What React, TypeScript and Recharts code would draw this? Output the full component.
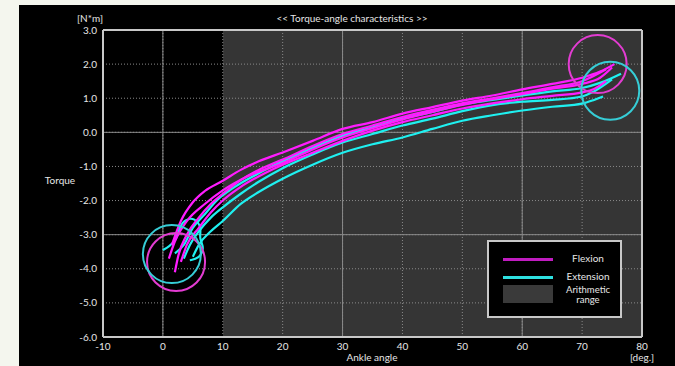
import React from "react";
import {
  ComposedChart,
  Line,
  XAxis,
  YAxis,
  CartesianGrid,
  ReferenceLine,
  ReferenceDot,
} from "recharts";

// ankle angle [deg.] / torque [N*m]
const flexion1 = [
  { a: 1.5, t: -3.3 }, { a: 3, t: -2.6 }, { a: 5, t: -2.05 }, { a: 7, t: -1.72 },
  { a: 10, t: -1.42 }, { a: 13, t: -1.1 }, { a: 16, t: -0.85 }, { a: 20, t: -0.59 },
  { a: 25, t: -0.25 }, { a: 30, t: 0.1 }, { a: 35, t: 0.3 }, { a: 40, t: 0.55 },
  { a: 45, t: 0.74 }, { a: 50, t: 0.93 }, { a: 55, t: 1.08 }, { a: 60, t: 1.26 },
  { a: 65, t: 1.42 }, { a: 70, t: 1.6 }, { a: 73, t: 1.78 }, { a: 75.4, t: 2.0 },
];
const flexion2 = [
  { a: 2, t: -4.1 }, { a: 2.6, t: -3.6 }, { a: 4, t: -3.0 }, { a: 6, t: -2.5 },
  { a: 8, t: -2.1 }, { a: 10, t: -1.8 }, { a: 13, t: -1.4 }, { a: 16, t: -1.1 },
  { a: 20, t: -0.8 }, { a: 25, t: -0.4 }, { a: 30, t: -0.05 }, { a: 35, t: 0.2 },
  { a: 40, t: 0.45 }, { a: 45, t: 0.66 }, { a: 50, t: 0.85 }, { a: 55, t: 1.0 },
  { a: 60, t: 1.15 }, { a: 65, t: 1.32 }, { a: 70, t: 1.5 }, { a: 74, t: 1.85 },
];
const flexion3 = [
  { a: 1, t: -3.7 }, { a: 2, t: -3.2 }, { a: 4, t: -2.6 }, { a: 7, t: -2.1 },
  { a: 10, t: -1.7 }, { a: 14, t: -1.3 }, { a: 20, t: -0.9 }, { a: 25, t: -0.5 },
  { a: 30, t: -0.15 }, { a: 35, t: 0.12 }, { a: 40, t: 0.38 }, { a: 45, t: 0.6 },
  { a: 50, t: 0.8 }, { a: 55, t: 0.97 }, { a: 60, t: 1.12 }, { a: 65, t: 1.28 },
  { a: 70, t: 1.42 }, { a: 73, t: 1.6 }, { a: 75, t: 1.9 },
];
const flexion4 = [
  { a: 3, t: -3.8 }, { a: 4, t: -3.3 }, { a: 6, t: -2.8 }, { a: 8, t: -2.35 },
  { a: 10, t: -2.0 }, { a: 13, t: -1.6 }, { a: 17, t: -1.2 }, { a: 20, t: -0.95 },
  { a: 25, t: -0.6 }, { a: 30, t: -0.25 }, { a: 35, t: 0.05 }, { a: 40, t: 0.3 },
  { a: 45, t: 0.5 }, { a: 50, t: 0.7 }, { a: 55, t: 0.85 }, { a: 60, t: 0.97 },
  { a: 65, t: 1.07 }, { a: 70, t: 1.17 }, { a: 72, t: 1.27 }, { a: 74, t: 1.5 },
];

const extension1 = [
  { a: 2, t: -3.55 }, { a: 3.5, t: -3.3 }, { a: 5, t: -2.8 }, { a: 7, t: -2.4 },
  { a: 9, t: -2.0 }, { a: 12, t: -1.6 }, { a: 16, t: -1.2 }, { a: 20, t: -0.85 },
  { a: 25, t: -0.45 }, { a: 30, t: -0.1 }, { a: 35, t: 0.15 }, { a: 40, t: 0.4 },
  { a: 45, t: 0.6 }, { a: 50, t: 0.82 }, { a: 55, t: 0.95 }, { a: 60, t: 1.08 },
  { a: 65, t: 1.2 }, { a: 70, t: 1.3 }, { a: 73, t: 1.45 }, { a: 76.5, t: 1.72 },
];
const extension2 = [
  { a: 3.5, t: -3.7 }, { a: 4.5, t: -3.3 }, { a: 6, t: -2.9 }, { a: 8, t: -2.5 },
  { a: 10, t: -2.2 }, { a: 13, t: -1.8 }, { a: 16, t: -1.45 }, { a: 20, t: -1.05 },
  { a: 25, t: -0.65 }, { a: 30, t: -0.3 }, { a: 35, t: -0.05 }, { a: 40, t: 0.2 },
  { a: 45, t: 0.4 }, { a: 50, t: 0.62 }, { a: 55, t: 0.8 }, { a: 60, t: 0.9 },
  { a: 65, t: 0.95 }, { a: 70, t: 1.05 }, { a: 72, t: 1.2 }, { a: 75, t: 1.55 },
];
const extension3 = [
  { a: 5, t: -3.65 }, { a: 6, t: -3.3 }, { a: 8, t: -2.9 }, { a: 10, t: -2.6 },
  { a: 13, t: -2.1 }, { a: 16, t: -1.75 }, { a: 20, t: -1.36 }, { a: 25, t: -0.95 },
  { a: 30, t: -0.6 }, { a: 35, t: -0.35 }, { a: 40, t: -0.15 }, { a: 45, t: 0.1 },
  { a: 50, t: 0.34 }, { a: 55, t: 0.5 }, { a: 60, t: 0.64 }, { a: 65, t: 0.75 },
  { a: 70, t: 0.84 }, { a: 72, t: 0.95 }, { a: 73.5, t: 1.05 },
];
const extensionLoop = [
  { a: 0, t: -3.45 }, { a: 1, t: -3.35 }, { a: 2.3, t: -3.15 }, { a: 2.8, t: -2.75 },
  { a: 3.8, t: -2.55 }, { a: 5.3, t: -2.5 }, { a: 6.5, t: -2.8 }, { a: 6, t: -3.1 },
  { a: 7, t: -3.4 }, { a: 6, t: -3.7 }, { a: 4.5, t: -3.75 },
];

const flexionCircles = [
  { a: 72.6, t: 2.0 },
  { a: 2.2, t: -3.8 },
];
const extensionCircles = [
  { a: 74.7, t: 1.22 },
  { a: 1.5, t: -3.57 },
];

const xTicks = [-10, 0, 10, 20, 30, 40, 50, 60, 70, 80];
const yTicks = [3, 2, 1, 0, -1, -2, -3, -4, -5, -6];
const solidX = [0, 30, 60];
const solidY = [0, -3];

const flexionLines = [flexion1, flexion2, flexion3, flexion4];
const extensionLines = [extension1, extension2, extension3];

const MAGENTA = "#ff1cff";
const CYAN = "#1ff0f0";
const RANGE = "#353535";
const FONT = "Lato, 'Open Sans', sans-serif";
const TXT = "#e6e6e6";

function Txt({ x, y, size = 10, children }: { x: number; y: number; size?: number; children: React.ReactNode }) {
  return (
    <div
      style={{
        position: "absolute",
        left: x,
        top: y,
        transform: "translate(-50%, -50%)",
        whiteSpace: "nowrap",
        fontFamily: FONT,
        fontSize: size,
        color: TXT,
        lineHeight: 1,
      }}
    >
      {children}
    </div>
  );
}

export default function App() {
  const tick = { fill: TXT, fontSize: 10, fontFamily: FONT };
  return (
    <div style={{ position: "absolute", left: 0, top: 0, width: 675, height: 366, background: "#f4f6ee", overflow: "hidden" }}>
      <div style={{ position: "absolute", left: 19, top: 5, width: 656, height: 361, background: "#000" }}>
        <ComposedChart width={656} height={361} margin={{ top: 25, right: 33, bottom: 0, left: 0 }}>
          <CartesianGrid
            stroke="#8a8a8a"
            strokeDasharray="1 2"
            verticalFill={["#000", "#000", RANGE, RANGE, RANGE, RANGE, RANGE, RANGE, RANGE, "#000"]}
            fillOpacity={1}
          />
          <XAxis
            type="number"
            dataKey="a"
            domain={[-10, 80]}
            ticks={xTicks}
            allowDataOverflow
            height={29}
            tick={tick}
            tickLine={false}
            tickSize={4}
            tickMargin={2}
            axisLine={{ stroke: "#c8c8c8", strokeWidth: 2 }}
          />
          <YAxis
            type="number"
            dataKey="t"
            domain={[-6, 3]}
            ticks={yTicks}
            allowDataOverflow
            width={84}
            tick={tick}
            tickLine={false}
            tickSize={4}
            tickMargin={2}
            tickFormatter={(v: number) => v.toFixed(1)}
            axisLine={{ stroke: "#c8c8c8", strokeWidth: 2 }}
          />
          {solidX.map((v) => (
            <ReferenceLine key={"sx" + v} x={v} stroke="#8a8a8a" strokeWidth={1} />
          ))}
          {solidY.map((v) => (
            <ReferenceLine key={"sy" + v} y={v} stroke="#8a8a8a" strokeWidth={1} />
          ))}
          <ReferenceLine y={3} stroke="#c8c8c8" strokeWidth={2} />
          <ReferenceLine x={80} stroke="#c8c8c8" strokeWidth={2} />
          {extensionLines.map((d, i) => (
            <Line
              key={"e" + i}
              data={d}
              dataKey="t"
              type="monotone"
              stroke={CYAN}
              strokeWidth={2.2}
              dot={false}
              isAnimationActive={false}
            />
          ))}
          <Line
            data={extensionLoop}
            dataKey="t"
            type="basis"
            stroke={CYAN}
            strokeWidth={2.2}
            dot={false}
            isAnimationActive={false}
          />
          {flexionLines.map((d, i) => (
            <Line
              key={"f" + i}
              data={d}
              dataKey="t"
              type="monotone"
              stroke={MAGENTA}
              strokeWidth={2.2}
              dot={false}
              isAnimationActive={false}
            />
          ))}
          {flexionCircles.map((c, i) => (
            <ReferenceDot key={"fc" + i} x={c.a} y={c.t} r={29} fill="none" stroke="#e33cd2" strokeWidth={2} />
          ))}
          {extensionCircles.map((c, i) => (
            <ReferenceDot key={"ec" + i} x={c.a} y={c.t} r={29} fill="none" stroke="#36cdd6" strokeWidth={2} />
          ))}
        </ComposedChart>
      </div>

      <Txt x={352} y={18}>{"<< Torque-angle characteristics >>"}</Txt>
      <Txt x={90} y={18}>[N*m]</Txt>
      <Txt x={60} y={180}>Torque</Txt>
      <Txt x={372} y={357}>Ankle angle</Txt>
      <Txt x={642} y={357}>[deg.]</Txt>

      <div
        style={{
          position: "absolute",
          left: 487,
          top: 240,
          width: 131,
          height: 74,
          border: "2px solid #c8c8c8",
          background: "#000",
        }}
      >
        <div style={{ position: "absolute", left: 14, top: 16, width: 50, height: 3, background: "#c01cc0" }} />
        <div style={{ position: "absolute", left: 14, top: 34, width: 50, height: 3, background: "#2ee0e0" }} />
        <div style={{ position: "absolute", left: 14, top: 43, width: 50, height: 18, background: "#3a3a3a" }} />
      </div>
      <Txt x={588} y={258}>Flexion</Txt>
      <Txt x={588} y={276}>Extension</Txt>
      <Txt x={588} y={290} size={9.5}>Arithmetic</Txt>
      <Txt x={588} y={299.8} size={9.5}>range</Txt>
    </div>
  );
}
